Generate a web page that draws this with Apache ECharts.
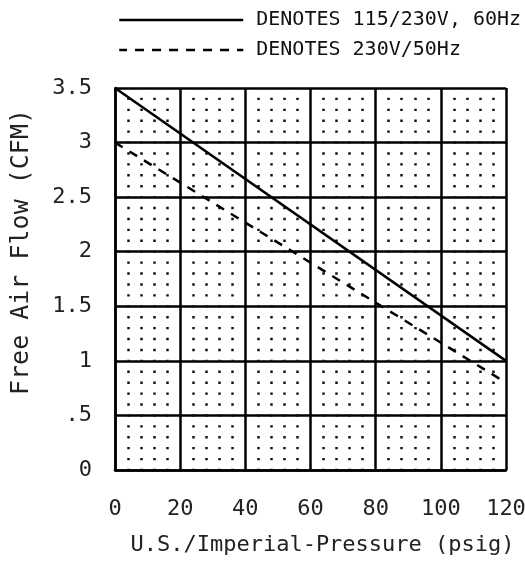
<!DOCTYPE html>
<html>
<head>
<meta charset="utf-8">
<script src="https://cdn.jsdelivr.net/npm/echarts@6/dist/echarts.min.js"></script>
<style>html,body{margin:0;padding:0;background:#fff;}#c{width:525px;height:563px;}</style>
</head>
<body>
<div id="c"></div>
<script>
// Data
var pressure = [0, 120];                 // psig
var flow60Hz = [3.5, 1.0];               // CFM, 115/230V 60Hz (solid)
var flow50Hz = [3.0, 0.8];               // CFM, 230V 50Hz (dashed)
var seriesNames = ['DENOTES 115/230V, 60Hz', 'DENOTES 230V/50Hz'];
var xTicks = [0, 20, 40, 60, 80, 100, 120];
var yTicks = [0, 0.5, 1, 1.5, 2, 2.5, 3, 3.5];

var FONT = 'DejaVu Sans Mono';
var gridTop = 88, gridBottom = 93, H = 563;
var plotH = H - gridTop - gridBottom;
var dotPeriod = plotH / 35;

function pairs(xs, ys) { return xs.map(function (x, i) { return [x, ys[i]]; }); }

var chart = echarts.init(document.getElementById('c'), null, { renderer: 'canvas' });
chart.setOption({
  animation: false,
  backgroundColor: '#fff',
  color: ['#000', '#000'],
  legend: {
    orient: 'vertical',
    left: 113,
    top: 5,
    icon: 'inherit',
    itemWidth: 124,
    itemHeight: 20,
    itemGap: 10,
    data: seriesNames,
    textStyle: { fontFamily: FONT, fontSize: 20, color: '#111', padding: [0, 0, 0, 8] },
    itemStyle: { opacity: 0 },
    lineStyle: { width: 2.5 }
  },
  grid: {
    left: 115, right: 19, top: gridTop, bottom: gridBottom,
    containLabel: false, outerBoundsMode: 'none'
  },
  xAxis: {
    type: 'value',
    min: xTicks[0], max: xTicks[xTicks.length - 1], interval: 20,
    name: 'U.S./Imperial-Pressure (psig)',
    nameLocation: 'middle',
    nameGap: 64,
    nameTextStyle: { fontFamily: FONT, fontSize: 22, color: '#222', padding: [0, 0, 0, 24] },
    axisLine: { show: true, lineStyle: { color: '#000', width: 2.5 } },
    axisTick: { show: false },
    axisLabel: { margin: 28, fontFamily: FONT, fontSize: 22, color: '#222' },
    splitLine: { show: true, lineStyle: { color: '#000', width: 2.5 } },
    minorTick: { show: false, splitNumber: 5 },
    minorSplitLine: { show: true, lineStyle: { color: '#111', width: 2.5, type: [2.4, dotPeriod - 2.4], dashOffset: 1.2 } }
  },
  yAxis: {
    type: 'value',
    min: yTicks[0], max: yTicks[yTicks.length - 1], interval: 0.5,
    name: 'Free Air Flow (CFM)',
    nameLocation: 'middle',
    nameGap: 81,
    nameTextStyle: { fontFamily: FONT, fontSize: 25, color: '#222', padding: [0, 0, 0, 54] },
    axisLine: { show: true, lineStyle: { color: '#000', width: 2.5 } },
    axisTick: { show: false },
    axisLabel: {
      margin: 23, fontFamily: FONT, fontSize: 22, color: '#222',
      formatter: function (v) { return v === 0 ? '0' : String(v).replace(/^0\./, '.'); }
    },
    splitLine: { show: true, lineStyle: { color: '#000', width: 2.5 } }
  },
  series: [
    {
      name: seriesNames[0], type: 'line', data: pairs(pressure, flow60Hz),
      symbol: 'none', itemStyle: { color: '#000' },
      lineStyle: { color: '#000', width: 2.5, type: 'solid' }, z: 5
    },
    {
      name: seriesNames[1], type: 'line', data: pairs(pressure, flow50Hz),
      symbol: 'none', itemStyle: { color: '#000' },
      lineStyle: { color: '#000', width: 2.5, type: [9, 8] }, z: 5
    }
  ]
});
</script>
</body>
</html>
